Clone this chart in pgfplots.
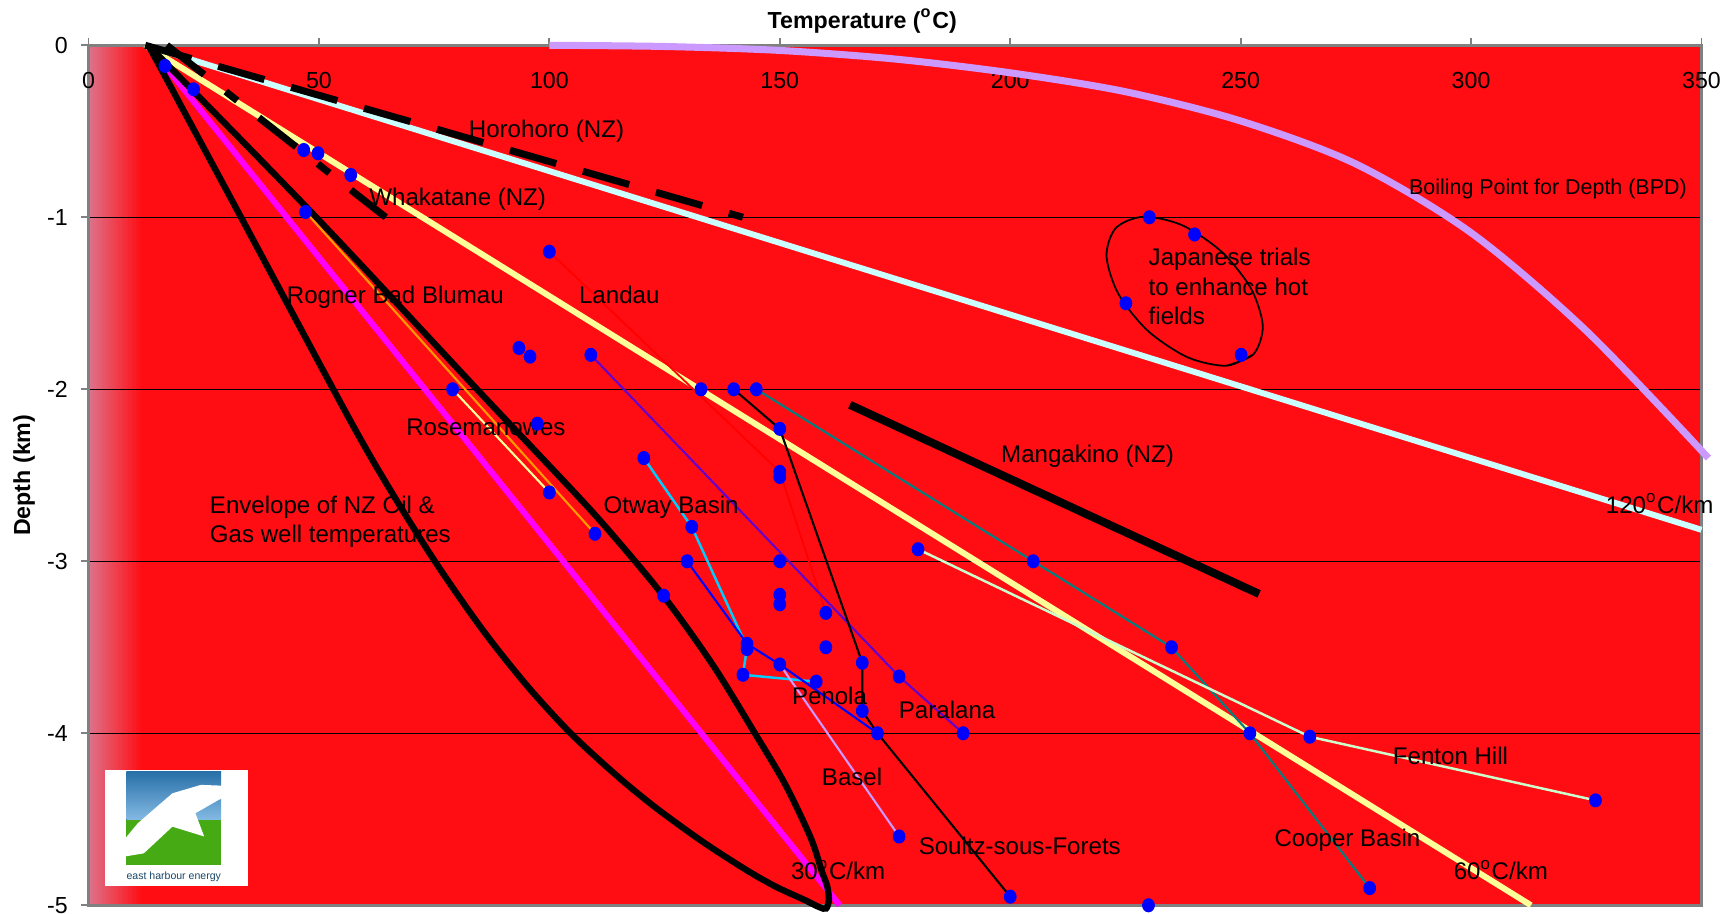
\documentclass[border=0pt]{standalone}
\usepackage{fontspec}
\setmainfont{Liberation Sans}
\usepackage{pgfplots}
\pgfplotsset{compat=1.18}
\definecolor{bgred}{RGB}{255,13,19}
\definecolor{bgpink}{RGB}{222,114,138}
\definecolor{bpd}{RGB}{204,153,255}
\definecolor{lcyan}{RGB}{204,255,255}
\definecolor{lyellow}{RGB}{255,255,153}
\definecolor{teal2}{RGB}{0,128,128}
\definecolor{purple2}{RGB}{102,0,204}
\definecolor{otway}{RGB}{0,204,255}
\definecolor{lgreen}{RGB}{204,255,204}
\definecolor{orange2}{RGB}{255,153,0}
\definecolor{magenta2}{RGB}{255,0,255}
\definecolor{blue2}{RGB}{0,0,255}
\definecolor{red2}{RGB}{255,0,0}
\definecolor{axgray}{RGB}{128,128,128}
\definecolor{logoblue}{RGB}{50,140,210}
\definecolor{logogreen}{RGB}{70,170,20}
\newcommand{\lbl}{\fontsize{6.85}{8.2}\selectfont}
\newcommand{\tkl}{\fontsize{6.6}{8}\selectfont}
\begin{document}
\begin{tikzpicture}
\begin{axis}[
  scale only axis, width=161.3mm, height=86mm,
  xmin=0, xmax=350, ymin=-5, ymax=0,
  clip=false,
  axis background/.style={fill=bgred, path picture={
    \foreach \i in {0,...,21}{
      \pgfmathsetmacro{\p}{100*\i/21}
      \fill[bgred!\p!bgpink] ([xshift=\i*0.25mm]path picture bounding box.south west) rectangle ([xshift=\i*0.25mm+0.3mm]path picture bounding box.north west);
    }}},
  axis line style={draw=axgray, line width=0.7pt},
  xtick={0,50,100,150,200,250,300,350}, xticklabels={0,50,100,150,200,250,300,350},
  ytick={0,-1,-2,-3,-4,-5}, yticklabels={0,-1,-2,-3,-4,-5},
  xtick pos=top, xticklabel pos=top, ytick pos=left,
  tick align=outside, major tick length=0.7mm,
  tick style={axgray, line width=0.5pt},
  xticklabel style={font=\tkl, inner sep=0pt, yshift=-5.1mm},
  yticklabel style={font=\tkl, inner sep=0pt, xshift=-1.3mm},
  ymajorgrids, grid style={black, line width=0.3pt},
]
\coordinate (sw) at (rel axis cs:0,0);
\coordinate (ne) at (rel axis cs:1,1);

% Boiling point for depth
\addplot[bpd, line width=2pt, smooth] coordinates {(100,0) (125,-0.007) (150,-0.03) (175,-0.08) (200,-0.16) (225,-0.27) (250,-0.44) (275,-0.69) (300,-1.09) (325,-1.66) (351.5,-2.40)};
% gradients
\addplot[lcyan, line width=1.7pt] coordinates {(12.3,0) (350,-2.817)};
\addplot[lyellow, line width=1.7pt] coordinates {(12.3,0) (313,-5)};
\addplot[magenta2, line width=1.7pt] coordinates {(16.6,-0.12) (163,-5)};
% envelope of NZ oil & gas wells
\addplot[black, line width=1.8pt, smooth] coordinates {(13,0) (33.1,-1.0) (56.8,-2.182) (66.6,-2.635) (75.7,-3.022) (85.8,-3.409) (95.4,-3.731) (104.7,-4.002) (114.6,-4.246) (123.1,-4.433) (133.4,-4.633) (142.7,-4.794) (149.0,-4.890) (155.3,-4.968) (158.5,-5.01) (160.05,-5.019) (160.65,-4.968) (160.3,-4.89) (159.1,-4.80) (156.7,-4.607) (151.2,-4.298) (144.6,-4.0) (135.4,-3.6) (124.4,-3.19) (110.9,-2.76) (97,-2.36) (84.3,-2.0) (49.4,-1.0) (13,0)};
% Horohoro and Whakatane
\addplot[black, line width=2pt, dash pattern=on 13.7pt off 7.9pt] coordinates {(12.3,0) (142,-1.0)};
\addplot[black, line width=2pt, dash pattern=on 13.5pt off 7.8pt on 4.2pt off 7.8pt] coordinates {(17,0) (64.5,-1.0)};
% well series
\addplot[orange2, line width=0.6pt] coordinates {(47.1,-0.969) (109.9,-2.84)};
\addplot[lyellow, line width=0.6pt] coordinates {(79,-2.0) (100,-2.6)};
\addplot[red2, line width=0.5pt] coordinates {(100,-1.2) (150,-2.48) (160,-3.3)};
\addplot[purple2, line width=0.6pt] coordinates {(109,-1.8) (175.9,-3.67) (189.8,-4.0)};
\addplot[otway, line width=0.7pt] coordinates {(120.5,-2.4) (130.9,-2.8) (142.9,-3.5) (142,-3.66) (157.9,-3.7)};
\addplot[blue2, line width=0.6pt] coordinates {(129.9,-3.0) (142.9,-3.48) (150,-3.6) (171.2,-4.0)};
\addplot[bpd, line width=0.6pt] coordinates {(150,-3.6) (175.9,-4.6)};
\addplot[black, line width=0.6pt] coordinates {(140,-2.0) (150,-2.23) (167.9,-3.59) (167.9,-3.87) (171.2,-4.0) (200,-4.95)};
\addplot[teal2, line width=0.6pt] coordinates {(144.9,-2.0) (205,-3.0) (235,-3.5) (252,-4.0) (278,-4.9)};
\addplot[lgreen, line width=0.7pt] coordinates {(180,-2.93) (265,-4.02) (327,-4.39)};
% Mangakino
\addplot[black, line width=2.3pt] coordinates {(165.2,-2.09) (254,-3.19)};
% Japanese trials outline
\addplot[black, line width=0.5pt, smooth] coordinates {(252.8,-1.796) (246.9,-1.863) (238.5,-1.814) (229.9,-1.661) (223.5,-1.447) (220.9,-1.227) (222.9,-1.063) (228.9,-0.997) (237.3,-1.046) (245.8,-1.199) (252.2,-1.412) (254.8,-1.631) (252.8,-1.796) (246.9,-1.863)};
% measured points
\addplot[only marks, mark=*, mark size=1.8pt, mark options={fill=blue2, draw=blue2, xscale=0.9}] coordinates {
(16.6,-0.12) (22.8,-0.256) (46.7,-0.609) (49.8,-0.628) (56.9,-0.754) (47.1,-0.969)
(100,-1.2) (93.4,-1.76) (95.8,-1.81) (109,-1.8) (79,-2.0) (97.4,-2.2)
(132.9,-2.0) (140,-2.0) (144.9,-2.0) (150,-2.23) (120.5,-2.4) (150,-2.48) (150,-2.51)
(100,-2.6) (130.9,-2.8) (109.9,-2.84) (180,-2.93) (129.9,-3.0) (150,-3.0) (205,-3.0)
(124.8,-3.2) (150,-3.195) (150,-3.25) (160,-3.3) (142.9,-3.48) (142.9,-3.51) (160,-3.5) (235,-3.5)
(142,-3.66) (150,-3.6) (167.9,-3.59) (157.9,-3.7) (175.9,-3.67) (167.9,-3.87) (171.2,-4.0) (189.8,-4.0)
(252,-4.0) (265,-4.02) (327,-4.39) (175.9,-4.6) (200,-4.95) (230,-5.0) (278,-4.9)
(230.2,-1.0) (240,-1.1) (225.1,-1.5) (250.1,-1.8)};

% labels
\begin{scope}[every node/.style={anchor=base west, inner sep=0pt, font=\lbl, text=black}]
\node at (axis cs:82.4,-0.535) {Horohoro (NZ)};
\node at (axis cs:60.8,-0.929) {Whakatane (NZ)};
\node at (axis cs:42.9,-1.5) {Rogner Bad Blumau};
\node at (axis cs:106.3,-1.5) {Landau};
\node at (axis cs:68.8,-2.266) {Rosemanowes};
\node at (axis cs:26.2,-2.72) {Envelope of NZ Oil \&};
\node at (axis cs:26.2,-2.892) {Gas well temperatures};
\node at (axis cs:111.6,-2.72) {Otway Basin};
\node at (axis cs:197.9,-2.427) {Mangakino (NZ)};
\node at (axis cs:229.9,-1.281) {Japanese trials};
\node at (axis cs:229.9,-1.452) {to enhance hot};
\node at (axis cs:229.9,-1.622) {fields};
\node[font=\fontsize{6.1}{7.3}\selectfont] at (axis cs:286.4,-0.868) {Boiling Point for Depth (BPD)};
\node at (axis cs:329.1,-2.72) {120\textsuperscript{o}C/km};
\node at (axis cs:152.5,-3.835) {Penola};
\node at (axis cs:175.7,-3.913) {Paralana};
\node at (axis cs:282.9,-4.18) {Fenton Hill};
\node at (axis cs:159,-4.306) {Basel};
\node at (axis cs:180,-4.703) {Soultz-sous-Forets};
\node at (axis cs:257.2,-4.659) {Cooper Basin};
\node at (axis cs:152.3,-4.853) {30\textsuperscript{o}C/km};
\node at (axis cs:296.1,-4.853) {60\textsuperscript{o}C/km};
\end{scope}
\node[anchor=base, inner sep=0pt, font=\bfseries\tkl] at (axis cs:167.9,0.099) {Temperature (\textsuperscript{o}C)};
\node[rotate=90, anchor=center, inner sep=0pt, font=\bfseries\tkl] at (axis cs:-13.96,-2.5) {Depth (km)};

% logo
\fill[white] (axis cs:3.6,-4.213) rectangle (axis cs:34.7,-4.888);
\fill[top color=logoblue!80!black, bottom color=logoblue!60!white] (axis cs:8.2,-4.223) rectangle (axis cs:28.8,-4.504);
\fill[logogreen] (axis cs:8.2,-4.504) rectangle (axis cs:28.8,-4.765);
\fill[white] (axis cs:4.2,-4.733) -- (axis cs:10.7,-4.523) -- (axis cs:18.2,-4.349) -- (axis cs:24.4,-4.30) -- (axis cs:34.4,-4.31) -- (axis cs:28.2,-4.388) -- (axis cs:23.2,-4.465) -- (axis cs:25.1,-4.60) -- (axis cs:18.2,-4.543) -- (axis cs:12,-4.698) -- cycle;
\node[anchor=base, inner sep=0pt, font=\fontsize{3}{3.5}\selectfont, text=logoblue!50!black] at (axis cs:18.5,-4.853) {east harbour energy};
\end{axis}
\pgfresetboundingbox
\path ([shift={(-8.85mm,-0.87mm)}]sw) rectangle ([shift={(3.35mm,4.53mm)}]ne);
\end{tikzpicture}
\end{document}
